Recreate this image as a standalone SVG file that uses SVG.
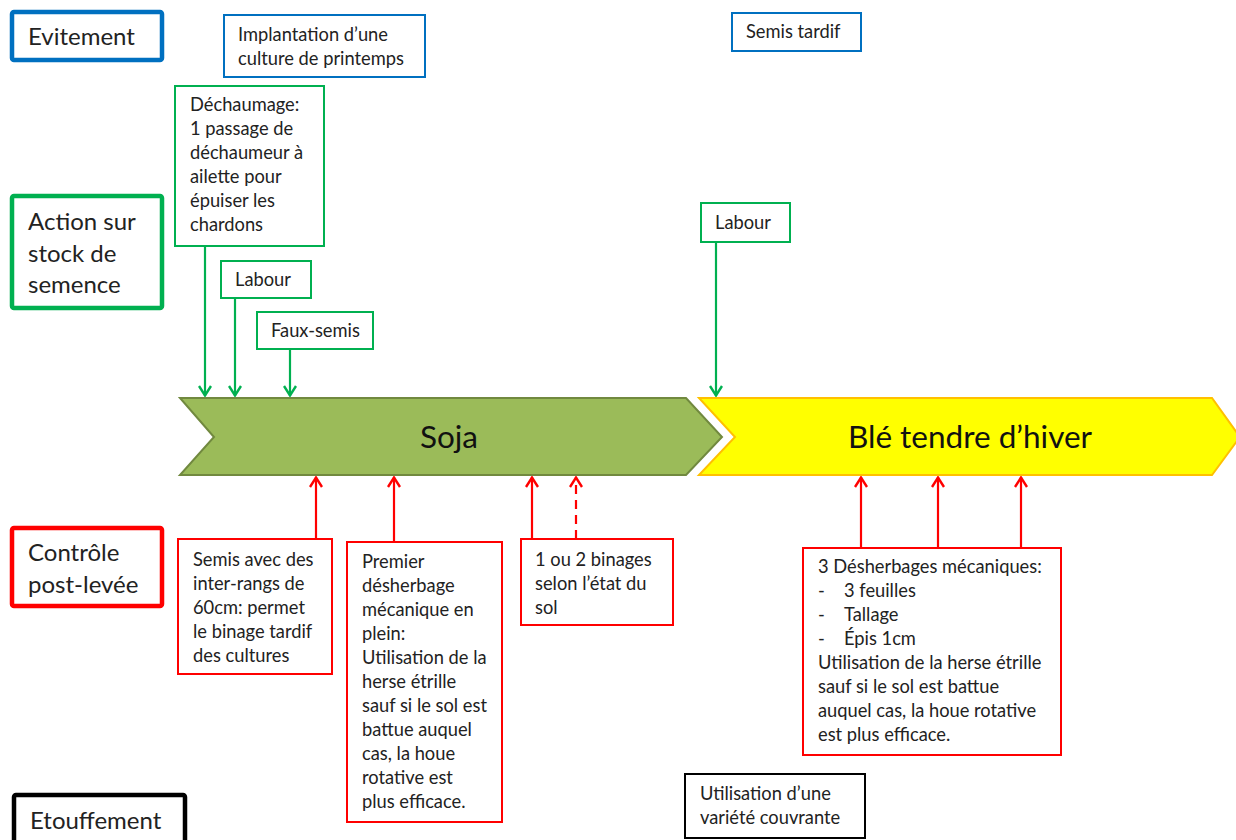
<svg xmlns="http://www.w3.org/2000/svg" width="1236" height="840" viewBox="0 0 1236 840">
<defs>
<style>
text{font-family:Lato,"Liberation Sans",sans-serif;fill:#222;}
.t{font-size:18.3px;}
.h{font-size:24px;}
.c{font-size:31.5px;text-anchor:middle;fill:#111;}
.bx{fill:#fff;stroke-width:2;}
.hb{fill:#fff;stroke-width:4.5;}
.blue{stroke:#0070C0;}
.green{stroke:#00B050;}
.red{stroke:#FF0000;}
.black{stroke:#000;}
.gl{stroke:#00B050;stroke-width:2.2;fill:none;marker-end:url(#ag);}
.rl{stroke:#FF0000;stroke-width:2.2;fill:none;marker-end:url(#ar);}
</style>
<marker id="ag" viewBox="0 0 14 14" refX="13" refY="7" markerWidth="14" markerHeight="14" markerUnits="userSpaceOnUse" orient="auto"><path d="M3,1 L12.5,7 L3,13" fill="none" stroke="#00B050" stroke-width="2.4"/></marker>
<marker id="ar" viewBox="0 0 14 14" refX="13" refY="7" markerWidth="14" markerHeight="14" markerUnits="userSpaceOnUse" orient="auto"><path d="M3,1 L12.5,7 L3,13" fill="none" stroke="#FF0000" stroke-width="2.4"/></marker>
</defs>
<rect width="1236" height="840" fill="#fff"/>

<g id="soja">
<polygon points="180,398 686,398 722,437 686,475 180,475 214,437" fill="#9BBB59" stroke="#71893F" stroke-width="2"/>
<text class="c" x="449" y="448">Soja</text>
</g>
<g id="ble">
<polygon points="699,398 1212,398 1240,437 1212,475 699,475 735,437" fill="#FFFF00" stroke="#FFC000" stroke-width="2"/>
<text class="c" x="970" y="448">Blé tendre d’hiver</text>
</g>

<g id="connectors">
<line class="gl" x1="205" y1="246" x2="205" y2="396"/>
<line class="gl" x1="235" y1="298" x2="235" y2="396"/>
<line class="gl" x1="290" y1="349" x2="290" y2="396"/>
<line class="gl" x1="716" y1="242" x2="716" y2="396"/>
<line class="rl" x1="316" y1="539" x2="316" y2="477"/>
<line class="rl" x1="394" y1="542" x2="394" y2="477"/>
<line class="rl" x1="532" y1="539" x2="532" y2="477"/>
<line class="rl" x1="576" y1="539" x2="576" y2="477" stroke-dasharray="9,6"/>
<line class="rl" x1="861" y1="548" x2="861" y2="477"/>
<line class="rl" x1="938" y1="548" x2="938" y2="477"/>
<line class="rl" x1="1021" y1="548" x2="1021" y2="477"/>
</g>

<g id="evitement">
<rect class="hb blue" x="12" y="12" width="150" height="48" rx="2"/>
<text class="h" x="28" y="45">Evitement</text>
</g>
<g id="implantation">
<rect class="bx blue" x="224" y="15" width="201" height="62"/>
<text class="t" x="238" y="41">Implantation d’une</text>
<text class="t" x="238" y="65">culture de printemps</text>
</g>
<g id="semis-tardif">
<rect class="bx blue" x="732" y="13" width="129" height="38"/>
<text class="t" x="746" y="38">Semis tardif</text>
</g>

<g id="action">
<rect class="hb green" x="12" y="196" width="150" height="112" rx="2"/>
<text class="h" x="28" y="230">Action sur</text>
<text class="h" x="28" y="262">stock de</text>
<text class="h" x="28" y="293">semence</text>
</g>
<g id="dechaumage">
<rect class="bx green" x="175" y="86" width="149" height="160"/>
<text class="t" x="190" y="111">Déchaumage:</text>
<text class="t" x="190" y="135">1 passage de</text>
<text class="t" x="190" y="159">déchaumeur à</text>
<text class="t" x="190" y="183">ailette pour</text>
<text class="t" x="190" y="207">épuiser les</text>
<text class="t" x="190" y="231">chardons</text>
</g>
<g id="labour1">
<rect class="bx green" x="221" y="261" width="90" height="37"/>
<text class="t" x="235" y="286">Labour</text>
</g>
<g id="faux-semis">
<rect class="bx green" x="257" y="312" width="116" height="37"/>
<text class="t" x="271" y="337">Faux-semis</text>
</g>
<g id="labour2">
<rect class="bx green" x="701" y="203" width="89" height="39"/>
<text class="t" x="715" y="229">Labour</text>
</g>

<g id="controle">
<rect class="hb red" x="12" y="528" width="150" height="78" rx="2"/>
<text class="h" x="28" y="561">Contrôle</text>
<text class="h" x="28" y="593">post-levée</text>
</g>
<g id="semis-inter">
<rect class="bx red" x="178" y="539" width="154" height="135"/>
<text class="t" x="193" y="566">Semis avec des</text>
<text class="t" x="193" y="590">inter-rangs de</text>
<text class="t" x="193" y="614">60cm: permet</text>
<text class="t" x="193" y="638">le binage tardif</text>
<text class="t" x="193" y="662">des cultures</text>
</g>
<g id="premier">
<rect class="bx red" x="347" y="542" width="155" height="280"/>
<text class="t" x="362" y="568">Premier</text>
<text class="t" x="362" y="592">désherbage</text>
<text class="t" x="362" y="616">mécanique en</text>
<text class="t" x="362" y="640">plein:</text>
<text class="t" x="362" y="664">Utilisation de la</text>
<text class="t" x="362" y="688">herse étrille</text>
<text class="t" x="362" y="712">sauf si le sol est</text>
<text class="t" x="362" y="736">battue auquel</text>
<text class="t" x="362" y="760">cas, la houe</text>
<text class="t" x="362" y="784">rotative est</text>
<text class="t" x="362" y="808">plus efficace.</text>
</g>
<g id="binages">
<rect class="bx red" x="521" y="539" width="152" height="86"/>
<text class="t" x="535" y="566">1 ou 2 binages</text>
<text class="t" x="535" y="590">selon l’état du</text>
<text class="t" x="535" y="614">sol</text>
</g>
<g id="desherbages">
<rect class="bx red" x="803" y="548" width="258" height="207"/>
<text class="t" x="818" y="573">3 Désherbages mécaniques:</text>
<text class="t" x="818" y="597">-</text><text class="t" x="844" y="597">3 feuilles</text>
<text class="t" x="818" y="621">-</text><text class="t" x="844" y="621">Tallage</text>
<text class="t" x="818" y="645">-</text><text class="t" x="844" y="645">Épis 1cm</text>
<text class="t" x="818" y="669">Utilisation de la herse étrille</text>
<text class="t" x="818" y="693">sauf si le sol est battue</text>
<text class="t" x="818" y="717">auquel cas, la houe rotative</text>
<text class="t" x="818" y="741">est plus efficace.</text>
</g>

<g id="etouffement">
<rect class="hb black" x="14" y="795" width="171" height="60" rx="2"/>
<text class="h" x="30" y="829">Etouffement</text>
</g>
<g id="variete">
<rect class="bx black" x="685" y="774" width="180" height="64"/>
<text class="t" x="700" y="800">Utilisation d’une</text>
<text class="t" x="700" y="824">variété couvrante</text>
</g>
</svg>
